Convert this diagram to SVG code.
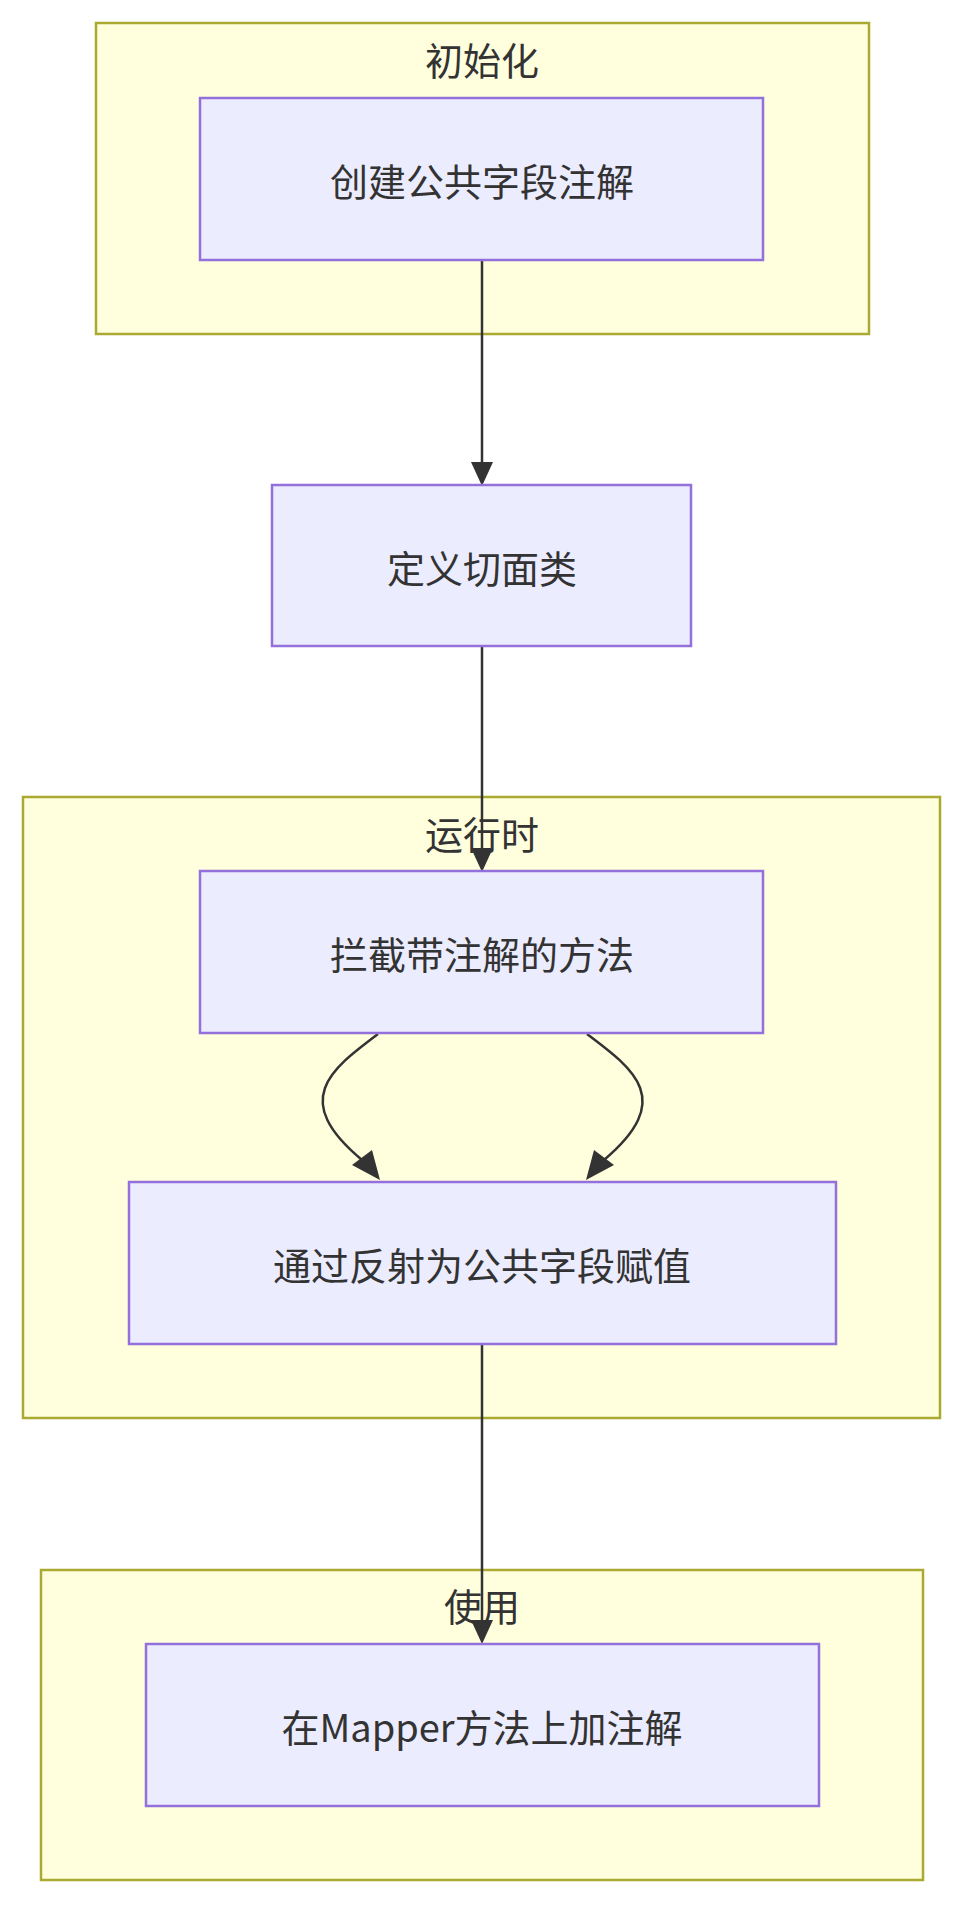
<svg xmlns="http://www.w3.org/2000/svg" width="966" height="1908" viewBox="0 0 966 1908">
<style>
.cl{fill:#ffffde;stroke:#aaaa33;stroke-width:2.5}
.nd{fill:#ececff;stroke:#9370db;stroke-width:2.5}
.t{font-family:"Noto Sans CJK SC","Noto Sans",sans-serif;font-size:38px;fill:#333;text-anchor:middle;dominant-baseline:central}
.e{fill:none;stroke:#333;stroke-width:2.5}
</style>
<defs><marker id="a" viewBox="0 0 10 10" refX="9" refY="5" markerWidth="8" markerHeight="8" orient="auto-start-reverse" markerUnits="userSpaceOnUse"><path d="M0,0L10,5L0,10z" fill="#333" transform="scale(2.4) translate(-5.5,-2.9)"/></marker></defs>
<g id="c1"><rect class="cl" x="96" y="23" width="773" height="311"/><text class="t" x="482" y="58">初始化</text></g>
<g id="c2"><rect class="cl" x="23" y="797" width="917" height="621"/><text class="t" x="482" y="832">运行时</text></g>
<g id="c3"><rect class="cl" x="41" y="1570" width="882" height="310"/><text class="t" x="482" y="1604">使用</text></g>
<g id="edges">
<path class="e" d="M482,260V474"/><path d="M471,462L482,486L493,462z" fill="#333"/>
<path class="e" d="M482,646V860"/><path d="M471,848L482,872L493,848z" fill="#333"/>
<path class="e" d="M378,1034C330,1070 290,1100 362,1160"/><path d="M352,1165L380,1180L372,1150z" fill="#333"/>
<path class="e" d="M587,1034C635,1070 675,1100 604,1160"/><path d="M614,1165L586,1180L594,1150z" fill="#333"/>
<path class="e" d="M482,1344V1632"/><path d="M471,1620L482,1644L493,1620z" fill="#333"/>
</g>
<g id="n1"><rect class="nd" x="200" y="98" width="563" height="162"/><text class="t" x="482" y="179">创建公共字段注解</text></g>
<g id="n2"><rect class="nd" x="272" y="485" width="419" height="161"/><text class="t" x="482" y="566">定义切面类</text></g>
<g id="n3"><rect class="nd" x="200" y="871" width="563" height="162"/><text class="t" x="482" y="952">拦截带注解的方法</text></g>
<g id="n4"><rect class="nd" x="129" y="1182" width="707" height="162"/><text class="t" x="482" y="1263">通过反射为公共字段赋值</text></g>
<g id="n5"><rect class="nd" x="146" y="1644" width="673" height="162"/><text class="t" x="482" y="1725">在Mapper方法上加注解</text></g>
</svg>
